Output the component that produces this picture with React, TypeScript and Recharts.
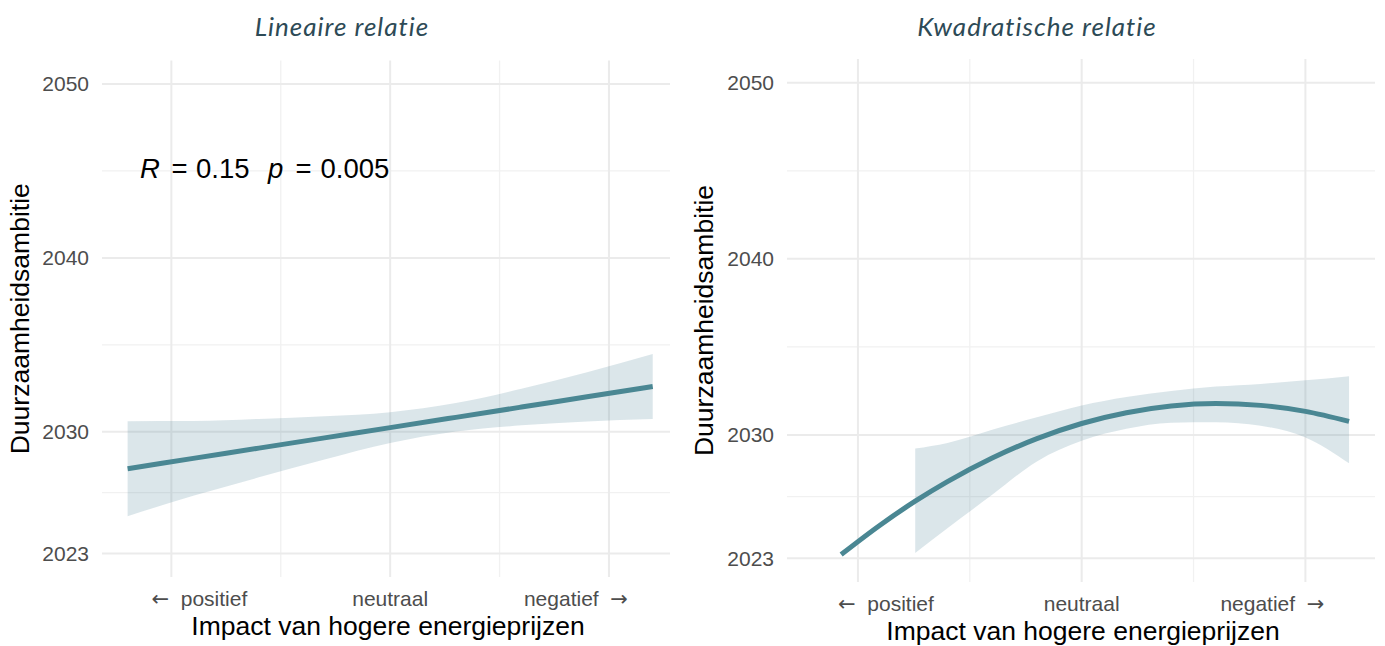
import React from 'react';
import { Area, CartesianGrid, ComposedChart, Label, Line, XAxis, YAxis } from 'recharts';

// shared axes
const X_TICKS = [-1, -0.5, 0, 0.5, 1];
const X_MAJOR = [-1, 0, 1];
const X_MINOR = [-0.5, 0.5];
// [arrow before, word, arrow after]
const X_LABELS: Record<string, [string, string, string]> = {
  '-1': ['←', '\u00a0 positief', ''],
  '0': ['', 'neutraal', ''],
  '1': ['', 'negatief\u00a0 ', '→'],
};
const X_LABEL_SHIFT: Record<string, number> = { '-1': 28, '0': 0, '1': -33 };
const Y_TICKS = [2023, 2026.5, 2030, 2035, 2040, 2045, 2050];
const Y_MAJOR = [2023, 2030, 2040, 2050];
const Y_MINOR = [2026.5, 2035, 2045];

// linear fit + confidence band
const LIN_X = [-1.2, -0.9, -0.6, -0.3, 0, 0.3, 0.6, 0.9, 1.2];
const LIN_FIT = [2027.88, 2028.47, 2029.06, 2029.65, 2030.24, 2030.83, 2031.42, 2032.01, 2032.6];
const LIN_LO = [2025.15, 2026.32, 2027.38, 2028.4, 2029.35, 2030.01, 2030.37, 2030.59, 2030.73];
const LIN_HI = [2030.61, 2030.62, 2030.74, 2030.9, 2031.13, 2031.65, 2032.47, 2033.43, 2034.47];

// quadratic fit + confidence band (band starts later than the line)
const QUAD_X = [-1.075, -0.9, -0.744, -0.6, -0.4, -0.2, 0, 0.2, 0.4, 0.6, 0.8, 1.0, 1.195];
const QUAD_FIT = [2023.21, 2024.89, 2026.24, 2027.35, 2028.69, 2029.79, 2030.65, 2031.26, 2031.64, 2031.78, 2031.68, 2031.34, 2030.77];
const QUAD_LO = [null, null, 2023.3, 2024.7, 2026.6, 2028.5, 2029.67, 2030.35, 2030.7, 2030.72, 2030.52, 2029.86, 2028.39];
const QUAD_HI = [null, null, 2029.23, 2029.55, 2030.3, 2031.0, 2031.67, 2032.15, 2032.5, 2032.75, 2032.9, 2033.1, 2033.34];

const LINE_COLOR = '#4a8793';
const BAND_COLOR = '#4a8296';
const TICK_FILL = '#4d4d4d';
const TICK_SIZE = 21;

const buildRows = (xs: number[], fit: number[], lo: (number | null)[], hi: (number | null)[]) =>
  xs.map((x, i) => ({
    x,
    fit: fit[i],
    band: lo[i] == null || hi[i] == null ? null : [lo[i], hi[i]],
  }));

const linRows = buildRows(LIN_X, LIN_FIT, LIN_LO, LIN_HI);
const quadRows = buildRows(QUAD_X, QUAD_FIT, QUAD_LO, QUAD_HI);

const XTick = (props: any) => {
  const { x, y, payload } = props;
  const key = String(payload?.value);
  const parts = X_LABELS[key];
  if (!parts) return null;
  const [before, word, after] = parts;
  return (
    <text x={x + (X_LABEL_SHIFT[key] ?? 0)} y={y} dy="0.71em" textAnchor="middle" fill={TICK_FILL} fontSize={TICK_SIZE}>
      {before && <tspan fontFamily="DejaVu Sans">{before}</tspan>}
      <tspan>{word}</tspan>
      {after && <tspan fontFamily="DejaVu Sans">{after}</tspan>}
    </text>
  );
};

const XTitle = (props: any) => {
  const vb = props.viewBox || {};
  return (
    <text x={vb.x + vb.width / 2 + 2} y={vb.y + 58} textAnchor="middle" fontSize={26.5} fill="#000">
      Impact van hogere energieprijzen
    </text>
  );
};

const YTitle = (offset: number) => (props: any) => {
  const vb = props.viewBox || {};
  const cx = vb.x + offset;
  const cy = vb.y + vb.height / 2;
  return (
    <text x={cx} y={cy} transform={`rotate(-90 ${cx} ${cy})`} textAnchor="middle" fontSize={26.5} fill="#000">
      Duurzaamheidsambitie
    </text>
  );
};

function Panel({
  rows,
  width,
  top,
  right,
  yWidth,
  xHeight,
  xDomain,
  yTitleOffset,
}: {
  rows: any[];
  width: number;
  top: number;
  right: number;
  yWidth: number;
  xHeight: number;
  xDomain: [number, number];
  yTitleOffset: number;
}) {
  return (
    <ComposedChart width={width} height={646} data={rows} margin={{ top, right, bottom: 0, left: 0 }}>
      <CartesianGrid horizontalValues={Y_MINOR} verticalValues={X_MINOR} stroke="#f1f1f1" strokeWidth={1.3} />
      <CartesianGrid horizontalValues={Y_MAJOR} verticalValues={X_MAJOR} stroke="#ebebeb" strokeWidth={2} />
      <XAxis
        type="number"
        dataKey="x"
        domain={xDomain}
        allowDataOverflow
        ticks={X_TICKS}
        interval={0}
        axisLine={false}
        tickLine={false}
        tickSize={0}
        tickMargin={14}
        height={xHeight}
        tick={XTick}
      >
        <Label content={XTitle} />
      </XAxis>
      <YAxis
        type="number"
        domain={[2021.65, 2051.35]}
        allowDataOverflow
        ticks={Y_TICKS}
        interval={0}
        tickFormatter={(v: number) => (Y_MAJOR.includes(v) ? String(v) : '')}
        axisLine={false}
        tickLine={false}
        tickSize={0}
        tickMargin={13}
        width={yWidth}
        tick={{ fill: TICK_FILL, fontSize: TICK_SIZE }}
      >
        <Label content={YTitle(yTitleOffset)} />
      </YAxis>
      <Area
        dataKey="band"
        type="monotone"
        stroke="none"
        fill={BAND_COLOR}
        fillOpacity={0.2}
        dot={false}
        activeDot={false}
        isAnimationActive={false}
      />
      <Line
        dataKey="fit"
        type="monotone"
        stroke={LINE_COLOR}
        strokeWidth={5}
        dot={false}
        activeDot={false}
        isAnimationActive={false}
      />
    </ComposedChart>
  );
}

export default function App() {
  const titleStyle = {
    fontFamily: 'Lato, "Open Sans", sans-serif',
    fontStyle: 'italic',
    fontWeight: 400,
    letterSpacing: 1,
  } as const;

  return (
    <div
      style={{
        position: 'absolute',
        left: 0,
        top: 0,
        width: 1385,
        height: 646,
        background: '#fff',
        fontFamily: '"Liberation Sans", Arial, sans-serif',
      }}
    >
      <div style={{ position: 'absolute', left: 0, top: 0 }}>
        <Panel rows={linRows} width={690} top={60.5} right={20} yWidth={102} xHeight={69} xDomain={[-1.317, 1.279]} yTitleOffset={29} />
      </div>
      <div style={{ position: 'absolute', left: 690, top: 0 }}>
        <Panel rows={quadRows} width={695} top={59} right={10} yWidth={97} xHeight={64} xDomain={[-1.317, 1.311]} yTitleOffset={23} />
      </div>

      <svg width={1385} height={646} style={{ position: 'absolute', left: 0, top: 0, pointerEvents: 'none' }}>
        <text x={342} y={36} textAnchor="middle" fontSize={26} fill="#2d4a56" style={titleStyle}>
          Lineaire relatie
        </text>
        <text x={1037} y={36} textAnchor="middle" fontSize={26} fill="#2d4a56" style={titleStyle}>
          Kwadratische relatie
        </text>
        <text y={178} fontSize={27.5} fill="#000">
          <tspan x={140} fontStyle="italic">R</tspan>
          <tspan x={171.5}>=</tspan>
          <tspan x={196}>0.15</tspan>
          <tspan x={268} fontStyle="italic">p</tspan>
          <tspan x={295.5}>=</tspan>
          <tspan x={320.5}>0.005</tspan>
        </text>
      </svg>
    </div>
  );
}
